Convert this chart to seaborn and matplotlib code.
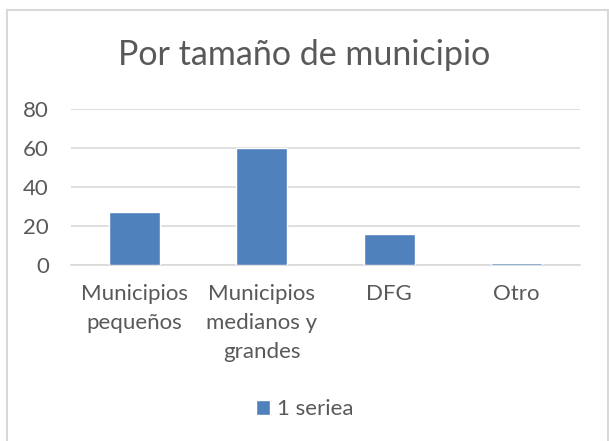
import pandas as pd
import matplotlib.pyplot as plt
import seaborn as sns
from matplotlib.patches import Rectangle

# Chart data
categories = ['Municipios\npequeños', 'Municipios\nmedianos y\ngrandes', 'DFG', 'Otro']
values = [27, 60, 16, 1]
series_name = '1 seriea'
y_ticks = [0, 20, 40, 60, 80]

df = pd.DataFrame({'categoria': categories, 'valor': values})

sns.set_style('white')
plt.rcParams['font.family'] = ['Lato', 'DejaVu Sans']

bar_color = '#4f81bd'
text_color = '#595959'
grid_color = '#d9d9d9'

fig = plt.figure(figsize=(6.09, 4.41), dpi=100)
ax = fig.add_axes([71 / 609, 1 - 265 / 441, 509 / 609, 156 / 441])

sns.barplot(data=df, x='categoria', y='valor', color=bar_color, width=0.4,
            saturation=1, label=series_name, ax=ax, zorder=3)

ax.set_ylim(0, 80)
ax.set_yticks(y_ticks)
ax.set_xlim(-0.5, len(categories) - 0.5)
ax.yaxis.grid(True, color=grid_color, linewidth=1.2, zorder=0)
ax.set_axisbelow(True)
for side in ['top', 'right', 'left']:
    ax.spines[side].set_visible(False)
ax.spines['bottom'].set_color(grid_color)
ax.spines['bottom'].set_linewidth(1.2)
ax.tick_params(axis='both', length=0, colors=text_color, labelsize=16)
ax.tick_params(axis='x', pad=14)
ax.tick_params(axis='y', pad=16)
for lbl in ax.get_xticklabels():
    lbl.set_linespacing(1.55)
ax.set_xlabel('')
ax.set_ylabel('')

fig.text(0.5, 1 - 55 / 441, 'Por tamaño de municipio', ha='center', va='center',
         fontsize=24.5, color=text_color)

handles, labels = ax.get_legend_handles_labels()
if ax.legend_:
    ax.legend_.remove()
fig.legend(handles, labels, loc='center', bbox_to_anchor=(0.5, 1 - 409 / 441),
           frameon=False, fontsize=16, labelcolor=text_color,
           handlelength=0.65, handleheight=0.65, handletextpad=0.3)

# outer border (open at the bottom edge of the image)
fig.patches.append(Rectangle((7 / 609, -0.05), 601 / 609, 1.05 - 10 / 441,
                             transform=fig.transFigure, fill=False,
                             edgecolor=grid_color, linewidth=1.5))

fig.savefig('out.png', dpi=100)
